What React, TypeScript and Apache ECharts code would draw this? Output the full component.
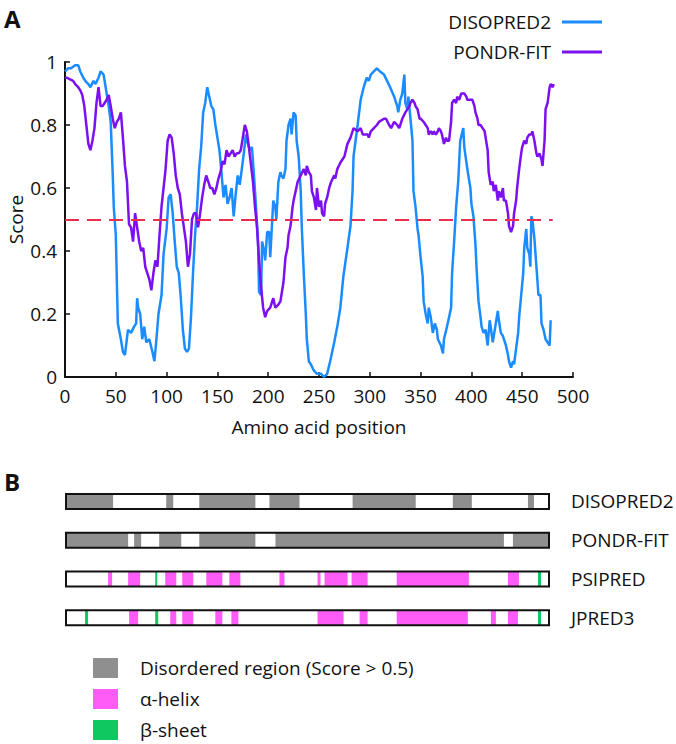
import React, { useEffect, useRef } from "react";
import * as echarts from "echarts";

// ---------- Panel A data: [residue position, score] ----------
const disopred2Scores: [number, number][] = [
  [0,0.97],[3,0.98],[6,0.98],[10,0.99],[13,0.99],[15,0.97],[18,0.95],[20,0.94],[23,0.93],[25,0.92],[28,0.94],[30,0.93],[33,0.95],[35,0.97],[38,0.96],[40,0.92],[43,0.86],[45,0.81],[47,0.64],[48,0.54],[50,0.45],[52,0.17],[55,0.12],[57,0.08],[59,0.07],[62,0.15],[65,0.14],[68,0.16],[70,0.17],[71,0.25],[72,0.22],[74,0.20],[76,0.12],[78,0.16],[80,0.11],[83,0.12],[86,0.08],[88,0.05],[90,0.12],[92,0.20],[95,0.26],[97,0.39],[100,0.47],[102,0.57],[104,0.58],[106,0.52],[108,0.43],[110,0.35],[112,0.33],[114,0.25],[116,0.15],[118,0.09],[120,0.08],[122,0.09],[124,0.19],[126,0.33],[128,0.45],[130,0.54],[132,0.66],[134,0.73],[136,0.84],[138,0.87],[140,0.92],[142,0.89],[144,0.86],[146,0.85],[148,0.80],[150,0.76],[152,0.72],[154,0.65],[156,0.57],[158,0.61],[160,0.55],[162,0.57],[164,0.60],[166,0.51],[168,0.58],[170,0.64],[172,0.61],[174,0.66],[176,0.71],[178,0.77],[180,0.74],[182,0.72],[184,0.73],[186,0.64],[188,0.54],[190,0.43],[191,0.27],[193,0.26],[194,0.43],[196,0.40],[197,0.37],[199,0.46],[201,0.46],[202,0.38],[204,0.50],[205,0.56],[207,0.54],[208,0.50],[210,0.62],[212,0.65],[213,0.64],[215,0.63],[217,0.66],[218,0.75],[220,0.80],[222,0.82],[223,0.77],[225,0.84],[227,0.83],[228,0.75],[230,0.70],[232,0.59],[233,0.48],[235,0.33],[237,0.20],[238,0.12],[240,0.05],[242,0.04],[245,0.02],[248,0.01],[252,0.01],[255,0.0],[258,0.01],[261,0.05],[265,0.11],[268,0.16],[271,0.22],[274,0.32],[278,0.41],[281,0.48],[283,0.59],[284,0.70],[288,0.80],[291,0.88],[294,0.92],[297,0.95],[299,0.94],[301,0.96],[304,0.97],[307,0.98],[310,0.97],[314,0.96],[317,0.94],[320,0.92],[324,0.89],[327,0.86],[328,0.84],[330,0.88],[332,0.90],[334,0.96],[335,0.87],[337,0.85],[338,0.89],[340,0.82],[342,0.75],[343,0.59],[345,0.54],[347,0.47],[348,0.45],[350,0.38],[352,0.32],[353,0.24],[355,0.20],[357,0.17],[358,0.22],[360,0.19],[362,0.14],[364,0.17],[366,0.15],[367,0.12],[370,0.10],[372,0.075],[373,0.12],[376,0.16],[378,0.19],[380,0.22],[381,0.33],[383,0.43],[385,0.54],[387,0.62],[389,0.75],[392,0.79],[393,0.73],[396,0.66],[399,0.60],[400,0.55],[402,0.51],[404,0.42],[405,0.35],[407,0.24],[409,0.19],[410,0.16],[412,0.14],[414,0.15],[416,0.10],[418,0.18],[419,0.16],[421,0.11],[422,0.13],[424,0.17],[426,0.21],[427,0.18],[429,0.14],[431,0.13],[432,0.12],[434,0.10],[436,0.07],[437,0.05],[439,0.03],[441,0.05],[442,0.04],[444,0.09],[446,0.14],[447,0.19],[449,0.26],[451,0.33],[452,0.41],[454,0.47],[455,0.41],[457,0.39],[458,0.35],[459,0.51],[460,0.50],[462,0.44],[464,0.35],[466,0.26],[468,0.26],[469,0.17],[471,0.15],[473,0.12],[475,0.11],[477,0.10],[478,0.18]
];

const pondrFitScores: [number, number][] = [
  [0,0.95],[2,0.95],[5,0.945],[8,0.94],[10,0.93],[13,0.92],[15,0.91],[17,0.895],[19,0.86],[21,0.80],[23,0.74],[25,0.72],[27,0.75],[29,0.79],[31,0.87],[33,0.92],[35,0.86],[37,0.86],[39,0.87],[41,0.88],[43,0.895],[45,0.86],[47,0.82],[49,0.79],[51,0.81],[53,0.82],[55,0.84],[57,0.76],[59,0.67],[61,0.62],[63,0.485],[65,0.475],[67,0.43],[69,0.52],[71,0.475],[73,0.43],[75,0.40],[77,0.41],[79,0.35],[81,0.33],[83,0.31],[85,0.275],[87,0.33],[89,0.37],[91,0.35],[93,0.45],[95,0.54],[97,0.60],[99,0.66],[101,0.75],[103,0.77],[105,0.76],[107,0.71],[109,0.64],[111,0.60],[113,0.58],[115,0.52],[117,0.475],[119,0.43],[121,0.35],[123,0.39],[125,0.50],[127,0.52],[129,0.52],[131,0.475],[133,0.52],[135,0.57],[137,0.61],[139,0.64],[141,0.62],[143,0.60],[145,0.60],[147,0.58],[149,0.60],[151,0.63],[153,0.65],[155,0.685],[157,0.675],[159,0.72],[161,0.70],[163,0.71],[165,0.72],[167,0.70],[169,0.71],[171,0.71],[173,0.72],[175,0.76],[177,0.80],[179,0.78],[181,0.73],[183,0.675],[185,0.62],[187,0.54],[189,0.475],[191,0.37],[193,0.285],[195,0.22],[197,0.19],[199,0.21],[202,0.22],[205,0.25],[207,0.22],[210,0.23],[212,0.24],[214,0.28],[215,0.30],[217,0.38],[219,0.41],[220,0.45],[222,0.48],[224,0.54],[225,0.56],[227,0.59],[229,0.62],[232,0.64],[235,0.66],[237,0.64],[238,0.67],[240,0.65],[242,0.64],[243,0.59],[245,0.57],[247,0.53],[248,0.60],[250,0.54],[252,0.56],[253,0.52],[255,0.51],[256,0.55],[258,0.57],[260,0.60],[262,0.62],[265,0.64],[266,0.63],[268,0.66],[271,0.68],[275,0.70],[278,0.74],[281,0.76],[283,0.78],[284,0.79],[288,0.78],[291,0.79],[293,0.77],[294,0.77],[298,0.77],[299,0.76],[301,0.78],[304,0.79],[307,0.80],[309,0.81],[314,0.82],[316,0.82],[319,0.80],[321,0.79],[324,0.81],[327,0.80],[329,0.79],[330,0.80],[332,0.82],[335,0.84],[339,0.86],[340,0.87],[342,0.88],[344,0.87],[345,0.86],[347,0.85],[349,0.82],[350,0.82],[353,0.81],[355,0.80],[357,0.79],[358,0.77],[360,0.78],[362,0.77],[363,0.78],[365,0.77],[367,0.78],[368,0.79],[370,0.78],[371,0.77],[373,0.74],[375,0.76],[376,0.75],[378,0.75],[380,0.81],[381,0.87],[383,0.88],[385,0.87],[386,0.89],[388,0.88],[390,0.90],[393,0.90],[395,0.89],[396,0.88],[399,0.88],[401,0.88],[403,0.86],[404,0.84],[406,0.82],[407,0.80],[409,0.80],[411,0.79],[413,0.78],[414,0.76],[416,0.72],[417,0.65],[419,0.61],[421,0.62],[422,0.59],[424,0.61],[426,0.56],[427,0.59],[429,0.57],[431,0.60],[432,0.56],[434,0.56],[436,0.52],[437,0.48],[439,0.46],[441,0.48],[442,0.52],[444,0.56],[445,0.60],[447,0.66],[449,0.71],[450,0.73],[452,0.75],[454,0.74],[455,0.76],[457,0.77],[459,0.77],[460,0.78],[462,0.75],[464,0.71],[465,0.70],[467,0.71],[469,0.69],[470,0.67],[472,0.75],[473,0.85],[475,0.87],[477,0.92],[478,0.93],[480,0.92],[481,0.93]
];

const disorderThreshold = 0.5;
const thresholdSpan = [0, 480];

// ---------- Panel B data: [start, end] residue ranges ----------
const proteinLength = 482;
const tracks = ["DISOPRED2", "PONDR-FIT", "PSIPRED", "JPRED3"];
const disopred2Disordered = [[0,47],[100,107],[133,189],[203,233],[286,349],[386,405],[461,467]];
const pondrFitDisordered = [[0,62],[68,75],[93,115],[133,189],[209,437],[446,482]];
const psipredHelix = [[42,46],[62,74],[99,110],[116,127],[140,156],[163,174],[213,218],[251,254],[258,281],[285,301],[330,402],[441,452]];
const psipredSheet = [[89,91],[471,474]];
const jpred3Helix = [[63,72],[104,110],[116,127],[149,156],[165,172],[251,277],[293,301],[330,401],[424,429],[441,451]];
const jpred3Sheet = [[19,22],[89,92],[471,474]];

const legendNames = ["Disordered region (Score > 0.5)", "α-helix", "β-sheet"];

const FONT = "Open Sans";
const BLUE = "#1a8cff";
const PURPLE = "#7c10f0";

function toItems(ranges: number[][], track: string) {
  return ranges.map((r) => [r[0], r[1], track]);
}

const segRender = (params: any, api: any) => {
  const a = api.coord([api.value(0), api.value(2)]);
  const b = api.coord([api.value(1), api.value(2)]);
  const h = 15;
  return {
    type: "rect",
    shape: { x: a[0], y: a[1] - h / 2, width: b[0] - a[0], height: h },
    style: { fill: api.visual("color") },
  };
};

const frameRender = (params: any, api: any) => {
  const a = api.coord([api.value(0), api.value(2)]);
  const b = api.coord([api.value(1), api.value(2)]);
  const h = 15;
  return {
    type: "rect",
    shape: { x: a[0], y: a[1] - h / 2, width: b[0] - a[0], height: h },
    style: { fill: "none", stroke: "#111", lineWidth: 2 },
  };
};

export default function App() {
  const ref = useRef<HTMLDivElement>(null);
  useEffect(() => {
    if (!ref.current) return;
    const chart = echarts.init(ref.current, null, { renderer: "svg" });
    const text = { fontFamily: FONT, fontSize: 19, color: "#111" };
    chart.setOption({
      animation: false,
      textStyle: { fontFamily: FONT },
      graphic: [
        { type: "text", left: 4, top: 6, style: { text: "A", fontFamily: FONT, fontWeight: "bold", fontSize: 24, fill: "#111" } },
        { type: "text", left: 4, top: 469, style: { text: "B", fontFamily: FONT, fontWeight: "bold", fontSize: 24, fill: "#111" } },
      ],
      legend: [
        {
          data: ["DISOPRED2", "PONDR-FIT"],
          orient: "vertical",
          align: "right",
          right: 69,
          top: 7,
          itemWidth: 40,
          itemHeight: 3,
          itemGap: 10,
          icon: "rect",
          selectedMode: false,
          textStyle: { ...text, lineHeight: 20, padding: [0, 6, 0, 0] },
        },
        {
          data: legendNames,
          orient: "vertical",
          left: 93,
          top: 658,
          height: 86,
          padding: 0,
          itemWidth: 25,
          itemHeight: 20,
          itemGap: 11,
          icon: "rect",
          selectedMode: false,
          textStyle: { ...text, padding: [0, 0, 0, 17] },
        },
      ],
      grid: [
        { left: 65, right: 103, top: 62, bottom: 367, outerBoundsMode: "none", containLabel: false },
        { left: 66, right: 127, top: 482, bottom: 107, outerBoundsMode: "none", containLabel: false },
      ],
      xAxis: [
        {
          type: "value",
          gridIndex: 0,
          min: 0,
          max: 500,
          interval: 50,
          name: "Amino acid position",
          nameLocation: "middle",
          nameGap: 40,
          nameTextStyle: text,
          axisLine: { lineStyle: { color: "#111", width: 2 } },
          axisTick: { inside: true, length: 5, lineStyle: { color: "#111", width: 1.5 } },
          axisLabel: { ...text, margin: 9 },
          splitLine: { show: false },
        },
        { type: "value", gridIndex: 1, min: 0, max: proteinLength, show: false },
      ],
      yAxis: [
        {
          type: "value",
          gridIndex: 0,
          min: 0,
          max: 1,
          interval: 0.2,
          name: "Score",
          nameLocation: "middle",
          nameGap: 40,
          nameMoveOverlap: false,
          nameTextStyle: { ...text, lineHeight: 19, padding: 0 },
          axisLine: { show: true, lineStyle: { color: "#111", width: 2 } },
          axisTick: { show: true, inside: true, length: 5, lineStyle: { color: "#111", width: 1.5 } },
          axisLabel: { ...text, margin: 8 },
          splitLine: { show: false },
        },
        {
          type: "category",
          gridIndex: 1,
          data: tracks,
          inverse: true,
          position: "right",
          axisLine: { show: false },
          axisTick: { show: false },
          axisLabel: { ...text, margin: 22 },
          splitLine: { show: false },
        },
      ],
      series: [
        {
          name: "DISOPRED2",
          type: "line",
          xAxisIndex: 0,
          yAxisIndex: 0,
          data: disopred2Scores,
          showSymbol: false,
          color: BLUE,
          lineStyle: { color: BLUE, width: 2.5 },
          z: 3,
          markLine: {
            silent: true,
            symbol: "none",
            label: { show: false },
            lineStyle: { color: "#e8304e", type: [14, 8], width: 2 },
            data: [[{ coord: [thresholdSpan[0], disorderThreshold] }, { coord: [thresholdSpan[1], disorderThreshold] }]],
          },
        },
        {
          name: "PONDR-FIT",
          type: "line",
          xAxisIndex: 0,
          yAxisIndex: 0,
          data: pondrFitScores,
          showSymbol: false,
          color: PURPLE,
          lineStyle: { color: PURPLE, width: 2.5 },
          z: 4,
        },
        {
          name: legendNames[0],
          type: "custom",
          xAxisIndex: 1,
          yAxisIndex: 1,
          itemStyle: { color: "#8f8f8f" },
          encode: { x: [0, 1], y: 2 },
          renderItem: segRender,
          data: [...toItems(disopred2Disordered, tracks[0]), ...toItems(pondrFitDisordered, tracks[1])],
        },
        {
          name: legendNames[1],
          type: "custom",
          xAxisIndex: 1,
          yAxisIndex: 1,
          itemStyle: { color: "#ff5cf7" },
          encode: { x: [0, 1], y: 2 },
          renderItem: segRender,
          data: [...toItems(psipredHelix, tracks[2]), ...toItems(jpred3Helix, tracks[3])],
        },
        {
          name: legendNames[2],
          type: "custom",
          xAxisIndex: 1,
          yAxisIndex: 1,
          itemStyle: { color: "#10c860" },
          encode: { x: [0, 1], y: 2 },
          renderItem: segRender,
          data: [...toItems(psipredSheet, tracks[2]), ...toItems(jpred3Sheet, tracks[3])],
        },
        {
          name: "frames",
          type: "custom",
          xAxisIndex: 1,
          yAxisIndex: 1,
          encode: { x: [0, 1], y: 2 },
          renderItem: frameRender,
          z: 5,
          data: tracks.map((t) => [0, proteinLength, t]),
        },
      ],
    });
    return () => chart.dispose();
  }, []);
  return (
    <div
      ref={ref}
      style={{ position: "fixed", left: 0, top: 0, width: 676, height: 744, background: "#fff" }}
    />
  );
}
